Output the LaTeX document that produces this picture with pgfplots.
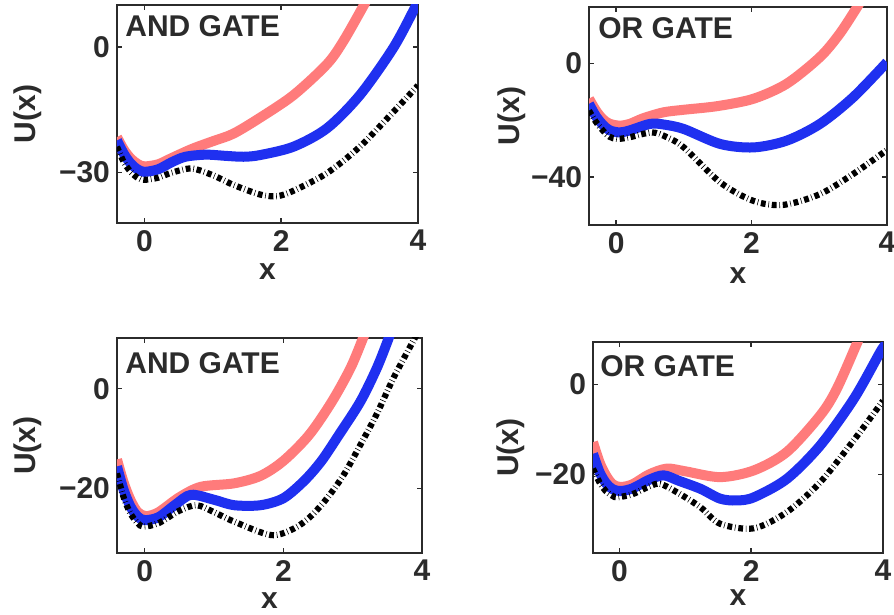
\documentclass[border=0pt]{standalone}
\usepackage{fontspec}
\setmainfont{Liberation Sans}
\usepackage{pgfplots}
\pgfplotsset{compat=1.18}
\definecolor{pinkc}{HTML}{FF7B7B}
\definecolor{bluec}{HTML}{1F30F0}
\definecolor{txt}{HTML}{2B2B2B}
\newcommand{\bigf}{\fontsize{15}{15}\selectfont\bfseries}
\pgfplotsset{
  gate/.style={
    scale only axis, anchor=south west,
    xmin=-0.4, xmax=4, xtick={0,2,4},
    tick align=inside, major tick length=2.5pt,
    axis line style={line width=0.8pt, draw=txt},
    every tick/.style={txt, line width=0.7pt},
    tick label style={font=\bigf, text=txt},
    label style={font=\bigf, text=txt},
    xlabel={x}, ylabel={U(x)},
    /pgf/number format/assume math mode=true,
    xlabel style={at={(axis description cs:0.5,0)}, anchor=center},
    ylabel style={at={(axis description cs:0,0.5)}, anchor=center},
  },
  pinkl/.style={pinkc, line width=5pt, smooth},
  bluel/.style={bluec, line width=5pt, smooth},
  blackl/.style={black, line width=3.1pt, smooth, dash pattern=on 2.4pt off 1.4pt on 0.3pt off 1.4pt},
}
\begin{document}
\begin{tikzpicture}
\useasboundingbox (0,0) rectangle (447pt,307.5pt);
% ---------- Panel 1: AND GATE (top left)
\begin{axis}[gate, at={(58.5pt,196pt)}, width=150.5pt, height=109pt,
  ymin=-42, ymax=10, ytick={-30,0}, yticklabels={−30,0},
  xlabel style={yshift=-24.5pt}, ylabel style={yshift=44.5pt}]
\addplot[pinkl] coordinates {(-0.4,-21.5) (-0.3,-24.5) (-0.2,-26.6) (-0.1,-27.9) (0,-28.5) (0.2,-28) (0.4,-26.5) (0.7,-24.3) (1.0,-22.5) (1.3,-20.7) (1.69,-16.9) (2.18,-11.5) (2.67,-4.1) (2.91,1.4) (3.2,9.7) (3.3,12.7)};
\addplot[bluel] coordinates {(-0.4,-22.3) (-0.3,-25.5) (-0.2,-27.8) (-0.1,-29.2) (0,-29.8) (0.2,-29.2) (0.4,-27.5) (0.6,-26.2) (0.9,-25.7) (1.2,-26) (1.45,-26.2) (1.69,-25.8) (2.18,-23.8) (2.67,-19.4) (3.15,-11.5) (3.64,-0.2) (3.96,9.5) (4.02,11.5)};
\addplot[blackl] coordinates {(-0.4,-23.8) (-0.3,-27.5) (-0.2,-29.8) (-0.1,-31.2) (0,-31.7) (0.2,-31.2) (0.4,-30) (0.69,-29) (1.0,-30.6) (1.3,-32.9) (1.69,-35.2) (1.94,-35.6) (2.18,-34.3) (2.67,-30.1) (3.15,-23.8) (3.64,-15.5) (4,-9.2)};
\node[anchor=north west, inner sep=0pt, font=\bigf, text=txt] at (rel axis cs:0,1) [xshift=4pt, yshift=-5pt] {AND GATE};
\end{axis}
% ---------- Panel 2: OR GATE (top right)
\begin{axis}[gate, at={(294.5pt,195pt)}, width=149pt, height=109pt,
  ymin=-57, ymax=20, ytick={-40,0}, yticklabels={−40,0},
  xlabel style={yshift=-25.5pt}, ylabel style={yshift=38.5pt}]
\addplot[pinkl] coordinates {(-0.4,-12.4) (-0.3,-16.5) (-0.2,-19.5) (-0.1,-21.2) (0.05,-21.9) (0.2,-21.3) (0.4,-19.3) (0.7,-17.2) (1.0,-16.3) (1.5,-15) (2.03,-12.4) (2.52,-7.1) (3.01,2.3) (3.3,10.5) (3.56,20) (3.62,22.5)};
\addplot[bluel] coordinates {(-0.4,-14.2) (-0.3,-18.5) (-0.2,-21.5) (-0.1,-23.5) (0.05,-24.3) (0.2,-23.6) (0.5,-21.3) (0.7,-21.5) (1.0,-23.1) (1.54,-28.4) (2.03,-29.6) (2.52,-27.2) (3.01,-21.3) (3.5,-11.9) (4,0.5)};
\addplot[blackl] coordinates {(-0.4,-16.6) (-0.3,-20.5) (-0.2,-23.5) (-0.1,-25.8) (0.02,-26.6) (0.2,-26) (0.53,-24.3) (0.75,-26) (1.0,-29.6) (1.54,-42) (2.03,-48.5) (2.47,-49.9) (3.01,-46.1) (3.5,-39) (4,-30.5)};
\node[anchor=north west, inner sep=0pt, font=\bigf, text=txt] at (rel axis cs:0,1) [xshift=4.5pt, yshift=-5pt] {OR GATE};
\end{axis}
% ---------- Panel 3: AND GATE (bottom left)
\begin{axis}[gate, at={(58.5pt,31pt)}, width=152.5pt, height=107.5pt,
  ymin=-33, ymax=10.2, ytick={-20,0}, yticklabels={−20,0},
  xlabel style={yshift=-24pt}, ylabel style={yshift=44.5pt}]
\addplot[pinkl] coordinates {(-0.4,-14.2) (-0.3,-19) (-0.2,-22.5) (-0.1,-24.8) (0.02,-25.6) (0.2,-24.8) (0.5,-21.8) (0.81,-19.7) (1.29,-19.0) (1.67,-17.5) (2.0,-14.5) (2.37,-9.3) (2.70,-2.6) (2.97,4.2) (3.15,10.2) (3.2,12)};
\addplot[bluel] coordinates {(-0.4,-15.6) (-0.3,-20.5) (-0.2,-23.8) (-0.1,-25.7) (0,-26.4) (0.2,-25.8) (0.45,-23.2) (0.67,-21.3) (1.0,-22.3) (1.29,-23.4) (1.67,-23.4) (2.0,-22) (2.3,-18.5) (2.55,-14.5) (2.80,-9.3) (3.11,-2.6) (3.35,4.2) (3.52,10.2) (3.56,12)};
\addplot[blackl] coordinates {(-0.4,-17) (-0.3,-22) (-0.2,-25.2) (-0.1,-27) (-0.02,-27.7) (0.2,-27) (0.5,-24.5) (0.75,-23.4) (1.0,-24.8) (1.29,-26.7) (1.82,-29.4) (2.15,-28.1) (2.39,-25.7) (2.63,-22) (2.87,-17.3) (3.11,-11.3) (3.35,-5) (3.59,2.2) (3.87,9.5) (3.95,11.5)};
\node[anchor=north west, inner sep=0pt, font=\bigf, text=txt] at (rel axis cs:0,1) [xshift=4pt, yshift=-7pt] {AND GATE};
\end{axis}
% ---------- Panel 4: OR GATE (bottom right)
\begin{axis}[gate, at={(296.5pt,31pt)}, width=145pt, height=105.5pt,
  ymin=-37.5, ymax=9.5, ytick={-20,0}, yticklabels={−20,0},
  xlabel style={yshift=-22.5pt}, ylabel style={yshift=41pt}]
\addplot[pinkl] coordinates {(-0.4,-12.8) (-0.3,-17.3) (-0.2,-20.3) (-0.1,-22.2) (0.02,-22.8) (0.2,-22.2) (0.45,-20) (0.72,-18.7) (1.0,-19.3) (1.53,-20.6) (2.04,-19.1) (2.54,-15) (3.05,-6.8) (3.3,-0.9) (3.61,9.4) (3.65,11)};
\addplot[bluel] coordinates {(-0.4,-15.4) (-0.3,-19.5) (-0.2,-22) (-0.1,-23.3) (0.02,-23.7) (0.2,-23.1) (0.45,-21.2) (0.67,-20.2) (0.9,-21.4) (1.23,-23.2) (1.53,-25.4) (1.78,-25.8) (2.04,-25.1) (2.54,-21) (3.05,-13.5) (3.56,-3.1) (3.96,7.3) (4.02,8.5)};
\addplot[blackl] coordinates {(-0.4,-18.7) (-0.3,-21.8) (-0.2,-23.8) (-0.1,-24.8) (-0.03,-25.1) (0.2,-24.4) (0.45,-22.7) (0.62,-22.1) (0.9,-24.2) (1.23,-27.3) (1.53,-31) (2.04,-32) (2.54,-28.4) (3.05,-21.7) (3.56,-12.3) (4,-3.6)};
\node[anchor=north west, inner sep=0pt, font=\bigf, text=txt] at (rel axis cs:0,1) [xshift=3.5pt, yshift=-6.5pt] {OR GATE};
\end{axis}
\end{tikzpicture}
\end{document}
